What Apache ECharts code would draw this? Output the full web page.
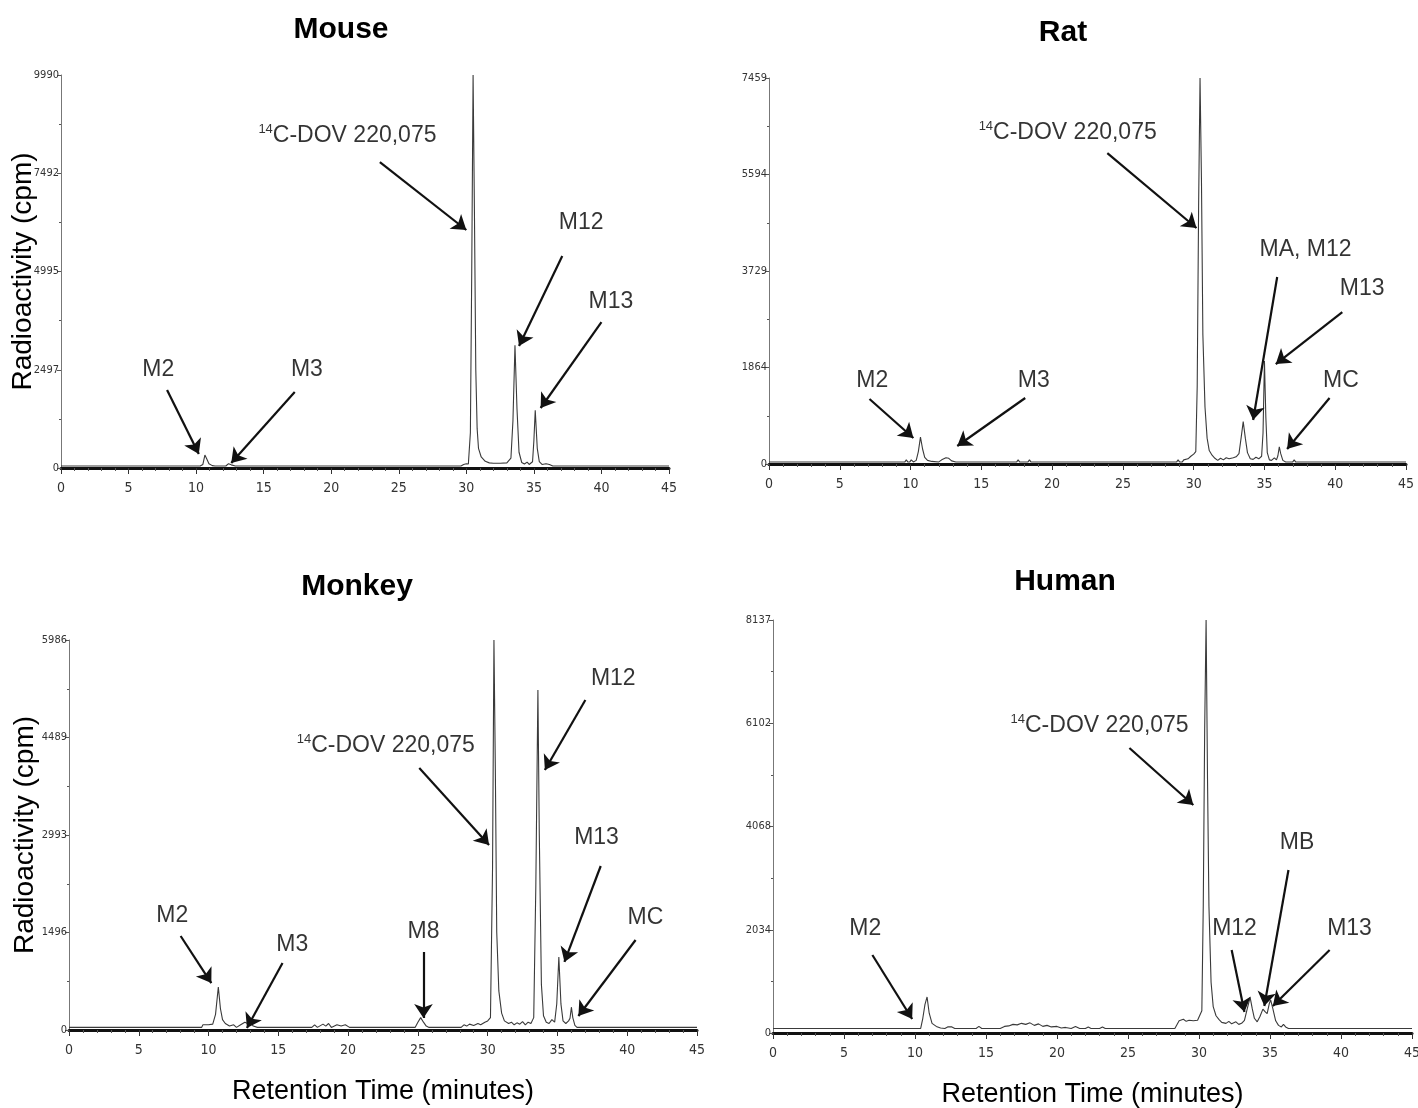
<!DOCTYPE html>
<html>
<head>
<meta charset="utf-8">
<title>Radiochromatograms</title>
<script src="https://cdn.jsdelivr.net/npm/echarts@6/dist/echarts.min.js"></script>
<style>
  html, body { margin: 0; padding: 0; background: #fff; }
  #chart { width: 1418px; height: 1108px; }
</style>
</head>
<body>
<div id="chart"></div>
<script>
// panel names and the full-scale value printed on each y axis
const species = ['Mouse', 'Rat', 'Monkey', 'Human'];
const yMax = [9990, 7459, 5986, 8137];
const xMax = 45;

// [retention time (min), radioactivity (cpm)]
const mouseTrace = [
  [0, 50], [10.3, 50], [10.5, 90], [10.65, 330], [10.8, 220], [10.95, 110], [11.2, 60], [11.4, 50],
  [12.2, 50], [12.4, 110], [12.6, 80], [12.9, 50], [29.6, 50], [29.8, 90], [30.0, 110], [30.15, 100],
  [30.3, 900], [30.4, 5000], [30.5, 9990], [30.6, 6500], [30.7, 2500], [30.8, 1000], [30.9, 500],
  [31.1, 280], [31.4, 170], [31.7, 130], [32.0, 120], [32.5, 120], [33.0, 130], [33.3, 250],
  [33.45, 1200], [33.6, 3120], [33.75, 1500], [33.9, 400], [34.1, 140], [34.3, 100], [34.5, 150],
  [34.65, 90], [34.9, 160], [35.0, 700], [35.1, 1470], [35.25, 500], [35.4, 160], [35.6, 90],
  [35.9, 110], [36.0, 140], [36.15, 90], [36.4, 50], [45, 50]
];
const ratTrace = [
  [0, 40], [9.6, 40], [9.7, 80], [9.8, 40], [9.95, 40], [10.05, 80], [10.2, 40], [10.4, 70],
  [10.55, 240], [10.7, 520], [10.85, 290], [11.0, 130], [11.2, 70], [11.5, 50], [12.0, 40],
  [12.2, 80], [12.5, 120], [12.7, 110], [12.9, 60], [13.2, 40], [17.5, 40], [17.6, 80], [17.7, 40],
  [18.3, 40], [18.4, 80], [18.5, 40], [28.8, 40], [28.9, 80], [29.0, 40], [29.2, 40], [29.3, 80],
  [29.4, 60], [29.6, 100], [29.8, 150], [30.0, 190], [30.15, 240], [30.25, 1500], [30.35, 5000],
  [30.45, 7459], [30.55, 5500], [30.65, 2500], [30.8, 1100], [30.95, 500], [31.1, 260], [31.3, 170],
  [31.5, 110], [31.7, 70], [31.9, 110], [32.1, 80], [32.3, 120], [32.5, 100], [32.8, 120],
  [33.0, 140], [33.2, 200], [33.35, 500], [33.5, 820], [33.65, 500], [33.8, 220], [34.0, 100],
  [34.2, 90], [34.4, 130], [34.6, 100], [34.8, 150], [34.9, 600], [35.0, 1990], [35.1, 900],
  [35.2, 220], [35.35, 80], [35.5, 70], [35.7, 120], [35.85, 80], [35.95, 160], [36.05, 330],
  [36.15, 200], [36.3, 70], [36.5, 40], [37.0, 40], [37.1, 80], [37.2, 40], [45, 40]
];
const monkeyTrace = [
  [0, 40], [9.5, 40], [9.6, 80], [10.0, 80], [10.3, 90], [10.5, 240], [10.7, 660], [10.85, 330],
  [11.0, 160], [11.2, 100], [11.5, 60], [11.8, 80], [12.0, 40], [12.3, 80], [12.6, 120], [12.8, 100],
  [13.0, 130], [13.2, 60], [13.5, 40], [17.4, 40], [17.6, 80], [17.8, 40], [18.2, 90], [18.4, 60],
  [18.6, 100], [18.8, 40], [19.2, 80], [19.5, 60], [19.8, 80], [20.1, 40], [24.8, 40], [25.0, 120],
  [25.2, 190], [25.4, 120], [25.6, 60], [25.8, 40], [28.1, 40], [28.3, 80], [28.5, 60], [28.7, 90],
  [29.0, 70], [29.3, 100], [29.5, 80], [29.8, 120], [30.0, 140], [30.2, 190], [30.35, 2500],
  [30.45, 5986], [30.55, 4000], [30.65, 1500], [30.8, 600], [31.0, 260], [31.2, 140], [31.5, 100],
  [31.7, 120], [31.9, 80], [32.1, 110], [32.3, 90], [32.5, 130], [32.7, 80], [32.9, 120],
  [33.1, 100], [33.3, 190], [33.45, 2200], [33.6, 5220], [33.7, 3000], [33.85, 700], [34.0, 220],
  [34.2, 120], [34.4, 100], [34.6, 160], [34.8, 120], [34.95, 400], [35.1, 1120], [35.25, 400],
  [35.4, 140], [35.6, 100], [35.8, 140], [35.9, 180], [36.0, 350], [36.1, 190], [36.25, 70],
  [36.4, 40], [45, 40]
];
const humanTrace = [
  [0, 90], [10.4, 90], [10.55, 290], [10.7, 560], [10.85, 710], [11.0, 390], [11.2, 190],
  [11.5, 130], [11.8, 100], [12.1, 90], [12.3, 120], [12.6, 120], [12.8, 90], [14.3, 90],
  [14.5, 130], [14.7, 90], [16.0, 90], [16.3, 130], [16.6, 140], [16.9, 170], [17.2, 160],
  [17.5, 190], [17.8, 170], [18.1, 200], [18.4, 150], [18.7, 180], [19.0, 130], [19.3, 150],
  [19.6, 120], [20.0, 130], [20.3, 100], [20.6, 110], [21.0, 90], [21.3, 130], [21.6, 90],
  [22.0, 90], [22.2, 120], [22.4, 90], [23.0, 90], [23.2, 120], [23.4, 90], [24.4, 90], [24.5, 120],
  [24.6, 90], [28.3, 90], [28.6, 240], [28.9, 270], [29.1, 230], [29.3, 250], [29.6, 240],
  [29.9, 250], [30.0, 260], [30.2, 440], [30.3, 2500], [30.4, 6000], [30.5, 8137], [30.6, 5000],
  [30.7, 2500], [30.85, 1000], [31.0, 520], [31.2, 340], [31.4, 270], [31.6, 210], [31.9, 190],
  [32.1, 230], [32.3, 180], [32.6, 220], [32.8, 170], [33.0, 190], [33.2, 250], [33.4, 480],
  [33.6, 700], [33.75, 480], [33.9, 290], [34.1, 220], [34.3, 330], [34.5, 470], [34.65, 420],
  [34.8, 380], [34.95, 580], [35.05, 650], [35.2, 480], [35.4, 240], [35.6, 150], [35.8, 120],
  [35.95, 170], [36.1, 120], [36.3, 90], [45, 90]
];

// peak labels: [text, labelX, labelY, arrowFromX, arrowFromY, arrowToX, arrowToY] in data units
const mouseNotes = [
  ['14C-DOV 220,075', 21.2, 8440, 23.6, 7778, 30.0, 6050],
  ['M12', 38.5, 6230, 37.1, 5389, 33.9, 3101],
  ['M13', 40.7, 4220, 40.0, 3711, 35.5, 1525],
  ['M2', 7.2, 2500, 7.85, 1983, 10.2, 356],
  ['M3', 18.2, 2500, 17.3, 1932, 12.6, 127]
];
const ratNotes = [
  ['14C-DOV 220,075', 21.1, 6395, 23.9, 6009, 30.2, 4560],
  ['MA, M12', 37.9, 4134, 35.9, 3613, 34.2, 850],
  ['M13', 41.9, 3381, 40.5, 2937, 35.8, 1932],
  ['MC', 40.4, 1604, 39.6, 1275, 36.6, 290],
  ['M2', 7.3, 1604, 7.1, 1256, 10.2, 502],
  ['M3', 18.7, 1604, 18.1, 1275, 13.3, 348]
];
const monkeyNotes = [
  ['14C-DOV 220,075', 22.7, 4359, 25.1, 4022, 30.1, 2840],
  ['M12', 39.0, 5388, 37.0, 5066, 34.1, 3991],
  ['M13', 37.8, 2947, 38.1, 2517, 35.5, 1044],
  ['MC', 41.3, 1719, 40.6, 1381, 36.5, 215],
  ['M2', 7.4, 1750, 8.0, 1443, 10.2, 721],
  ['M3', 16.0, 1305, 15.3, 1028, 12.75, 31],
  ['M8', 25.4, 1504, 25.4, 1197, 25.4, 184]
];
const humanNotes = [
  ['14C-DOV 220,075', 23.0, 6048, 25.1, 5615, 29.6, 4492],
  ['MB', 36.9, 3743, 36.3, 3211, 34.6, 532],
  ['M12', 32.5, 2049, 32.3, 1635, 33.2, 414],
  ['M13', 40.6, 2049, 39.2, 1635, 35.2, 532],
  ['M2', 6.5, 2049, 7.0, 1537, 9.8, 276]
];

const traces = [mouseTrace, ratTrace, monkeyTrace, humanTrace];
const notes = [mouseNotes, ratNotes, monkeyNotes, humanNotes];

const grids = [
  { left: 61, top: 75, width: 608, height: 393 },
  { left: 769, top: 78, width: 637, height: 386 },
  { left: 69, top: 640, width: 628, height: 390 },
  { left: 773, top: 620, width: 639, height: 413 }
].map(g => Object.assign({ outerBoundsMode: 'none', containLabel: false }, g));
const titlePos = [[336, 10], [1058, 13], [352, 567], [1060, 562]];

const narrow = '"Liberation Sans Narrow", "DejaVu Sans Condensed", sans-serif';
const sans = '"Liberation Sans", Arial, sans-serif';

const chart = echarts.init(document.getElementById('chart'));

const option = {
  backgroundColor: '#fff',
  animation: false,
  title: species.map((s, i) => ({
    text: s,
    left: titlePos[i][0],
    top: titlePos[i][1],
    textAlign: 'center',
    textStyle: { fontFamily: sans, fontSize: 30, fontWeight: 'bold', color: '#000' }
  })),
  grid: grids,
  xAxis: grids.map((g, i) => ({
    type: 'value',
    gridIndex: i,
    min: 0,
    max: xMax,
    interval: 5,
    name: i >= 2 ? 'Retention Time (minutes)' : '',
    nameLocation: 'middle',
    nameGap: 48,
    nameMoveOverlap: false,
    nameTextStyle: { fontFamily: sans, fontSize: 27, color: '#000' },
    axisLine: { lineStyle: { color: '#111', width: 3 } },
    axisTick: { length: 6, lineStyle: { color: '#333' } },
    minorTick: { show: true, splitNumber: 5, length: 3, lineStyle: { color: '#555' } },
    axisLabel: { fontFamily: narrow, fontSize: 14, color: '#333', margin: 13 },
    splitLine: { show: false }
  })),
  yAxis: grids.map((g, i) => ({
    type: 'value',
    gridIndex: i,
    min: 0,
    max: yMax[i],
    interval: yMax[i] / 4,
    name: i % 2 === 0 ? 'Radioactivity (cpm)' : '',
    nameLocation: 'middle',
    nameGap: i === 0 ? 24 : 30,
    nameMoveOverlap: false,
    nameTextStyle: { fontFamily: sans, fontSize: 28, color: '#000' },
    axisLine: { show: true, lineStyle: { color: '#777', width: 1 } },
    axisTick: { show: true, length: 4, lineStyle: { color: '#555' } },
    minorTick: { show: true, splitNumber: 2, length: 2, lineStyle: { color: '#555' } },
    axisLabel: {
      fontFamily: narrow, fontSize: 11, color: '#333', margin: 2,
      formatter: v => String(Math.floor(v))
    },
    splitLine: { show: false }
  })),
  series: []
};

traces.forEach((t, i) => {
  option.series.push({
    type: 'line',
    xAxisIndex: i,
    yAxisIndex: i,
    data: t,
    showSymbol: false,
    symbol: 'none',
    clip: false,
    lineStyle: { color: '#3a3a3a', width: 1.1 },
    z: 3
  });
});

notes.forEach((list, i) => {
  option.series.push({
    type: 'scatter',
    xAxisIndex: i,
    yAxisIndex: i,
    symbolSize: 0.01,
    itemStyle: { color: '#000' },
    silent: true,
    data: list.map(n => [n[1], n[2], n[0]]),
    label: {
      show: true,
      position: 'inside',
      fontFamily: sans,
      fontSize: 23,
      color: '#000',
      formatter: p => {
        const txt = p.data[2];
        return txt.startsWith('14') ? '{sup|14}{n|' + txt.slice(2) + '}' : txt;
      },
      rich: {
        sup: { fontFamily: sans, fontSize: 13, color: '#000', verticalAlign: 'top', lineHeight: 13, padding: [0, 0, 10, 0] },
        n: { fontFamily: sans, fontSize: 23, color: '#000', lineHeight: 26 }
      }
    },
    markLine: {
      silent: true,
      symbol: ['none', 'arrow'],
      symbolSize: 14,
      label: { show: false },
      itemStyle: { color: '#111' },
      lineStyle: { color: '#111', width: 2.2, type: 'solid' },
      data: list.map(n => [{ coord: [n[3], n[4]] }, { coord: [n[5], n[6]] }])
    },
    z: 5
  });
});

chart.setOption(option);
</script>
</body>
</html>
